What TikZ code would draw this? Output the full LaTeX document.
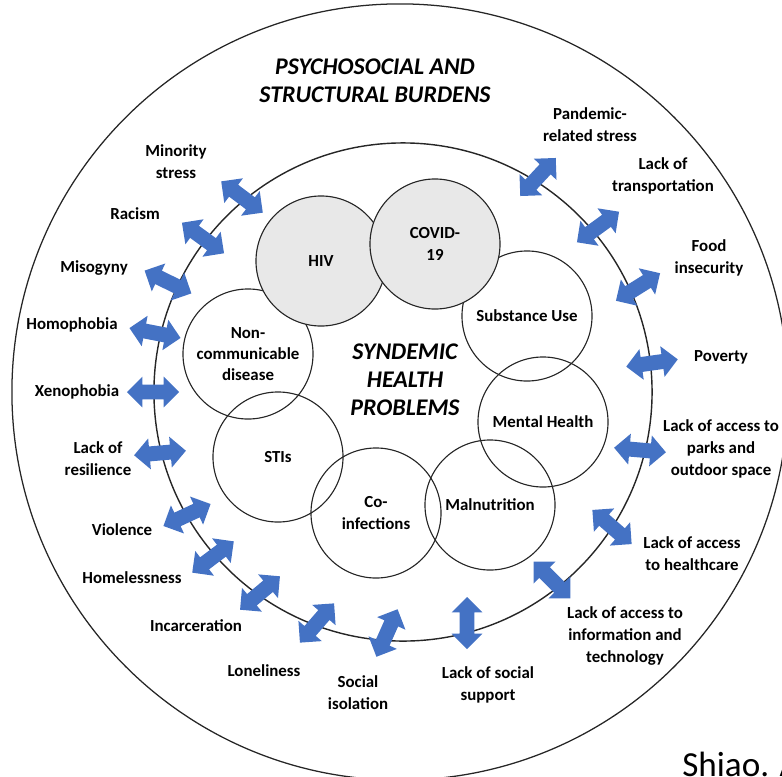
\documentclass[tikz,border=0pt]{standalone}
\usepackage{fontspec}
\setmainfont{Carlito}
\usetikzlibrary{shapes.arrows}
\definecolor{arrowblue}{RGB}{68,114,196}
\definecolor{bubblegray}{RGB}{232,232,232}
\tikzset{
	burden/.style={align=center, font=\bfseries\fontsize{12}{15.6}\selectfont},
	heading/.style={align=center, font=\bfseries\itshape\fontsize{17}{20}\selectfont},
	bubble/.style={circle, draw=black!85, line width=0.8pt, minimum size=3.25cm, inner sep=0pt, align=center, font=\bfseries\fontsize{12}{15}\selectfont},
	twoway/.style={double arrow, fill=arrowblue, inner xsep=0pt, inner ysep=0.18cm, minimum height=1.3cm, double arrow head extend=0.2cm}
}

\begin{document}
\begin{tikzpicture}[x=0.025cm, y=-0.025cm]
	\useasboundingbox (0,0) rectangle (782,776);

	% the two rings
	\coordinate (outer) at (400,392);
	\coordinate (ring) at (403,392);
	\draw[line width=0.9pt, black!85] (outer) circle (9.7cm);
	\draw[line width=1pt, black!85] (ring) circle (6.225cm);

	% health problems, white ones first
	\node[bubble] (noncomm) at (248,354) {Non-\\communicable\\disease};
	\node[bubble] (stis) at (278,457) {STIs};
	\node[bubble] (coinf) at (376,513) {Co-\\infections};
	\node[bubble] (malnut) at (490,505) {Malnutrition};
	\node[bubble] (mental) at (543,422) {Mental Health};
	\node[bubble] (subst) at (527,316) {Substance Use};
	\node[bubble, fill=bubblegray] (hiv) at (321,261) {HIV};
	\node[bubble, fill=bubblegray] (covid) at (435,244) {COVID-\\19};

	\node[heading] (burdens) at (375,81) {PSYCHOSOCIAL AND\\STRUCTURAL BURDENS};
	\node[heading] (syndemic) at (405,380) {SYNDEMIC\\HEALTH\\PROBLEMS};

	% arrows on the ring
	\node[twoway, rotate=-37] (a1) at (242,197) {};
	\node[twoway, rotate=-36] (a2) at (203,238) {};
	\node[twoway, rotate=-26] (a3) at (168,282) {};
	\node[twoway, rotate=-11] (a4) at (155,333) {};
	\node[twoway] (a5) at (153,392) {};
	\node[twoway, rotate=5] (a6) at (160,453) {};
	\node[twoway, rotate=25] (a7) at (187,515) {};
	\node[twoway, rotate=37] (a8) at (213,557) {};
	\node[twoway, rotate=40] (a9) at (260,593) {};
	\node[twoway, rotate=49] (a10) at (317,623) {};
	\node[twoway, rotate=66] (a11) at (387,633) {};
	\node[twoway, rotate=90] (a12) at (467,623) {};
	\node[twoway, rotate=-45] (a13) at (552,580) {};
	\node[twoway, rotate=-41] (a14) at (612,527) {};
	\node[twoway, rotate=-5] (a15) at (640,450) {};
	\node[twoway, rotate=8] (a16) at (652,363) {};
	\node[twoway, rotate=32] (a17) at (638,287) {};
	\node[twoway, rotate=36] (a18) at (598,227) {};
	\node[twoway, rotate=47] (a19) at (538,177) {};

	% burdens round the ring
	\node[burden] (minority) at (176,162) {Minority\\stress};
	\node[burden] (racism) at (135,214) {Racism};
	\node[burden] (misogyny) at (94,268) {Misogyny};
	\node[burden] (homophobia) at (72,325) {Homophobia};
	\node[burden] (xenophobia) at (77,392) {Xenophobia};
	\node[burden] (resilience) at (98,459) {Lack of\\resilience};
	\node[burden] (violence) at (122,530) {Violence};
	\node[burden] (homeless) at (132,578) {Homelessness};
	\node[burden] (prison) at (196,626) {Incarceration};
	\node[burden] (lonely) at (264,671) {Loneliness};
	\node[burden] (isolation) at (358,693) {Social\\isolation};
	\node[burden] (support) at (488,685) {Lack of social\\support};
	\node[burden] (info) at (625,636) {Lack of access to\\information and\\technology};
	\node[burden] (care) at (692,554) {Lack of access\\to healthcare};
	\node[burden] (parks) at (721,449) {Lack of access to\\parks and\\outdoor space};
	\node[burden] (poverty) at (721,357) {Poverty};
	\node[burden] (food) at (709,258) {Food\\insecurity};
	\node[burden] (transport) at (663,176) {Lack of\\transportation};
	\node[burden] (pandemic) at (590,125) {Pandemic-\\related stress};

	\node[anchor=base west, inner sep=0pt, font=\fontsize{25}{30}\selectfont] (cite) at (682,776) {Shiao. A};
\end{tikzpicture}
\end{document}
